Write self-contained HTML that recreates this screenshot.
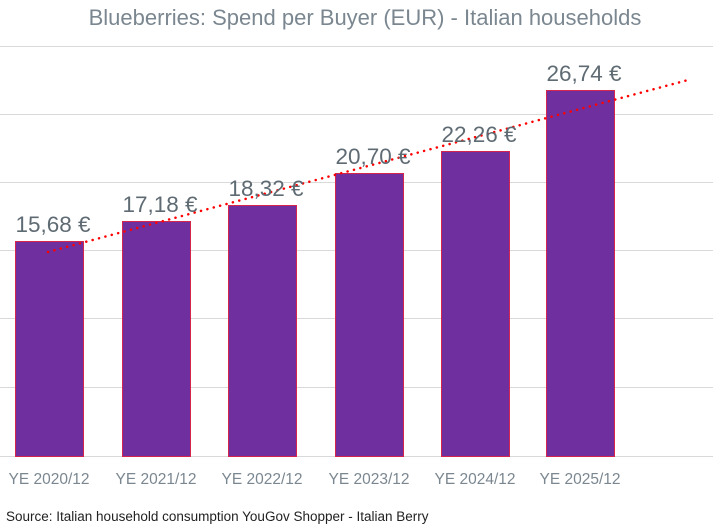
<!DOCTYPE html>
<html><head><meta charset="utf-8"><style>
body{margin:0;background:#fff}
svg{display:block;font-family:"Liberation Sans",sans-serif}
</style></head><body>
<svg width="713" height="527" viewBox="0 0 713 527">
<rect width="713" height="527" fill="#fff"/>
<text x="365" y="25" text-anchor="middle" font-size="22" fill="#7b8790">Blueberries: Spend per Buyer (EUR) - Italian households</text>
<g stroke="#d9d9d9" stroke-width="1">
<line x1="0" x2="713" y1="46.5" y2="46.5"/>
<line x1="0" x2="713" y1="114.5" y2="114.5"/>
<line x1="0" x2="713" y1="182.5" y2="182.5"/>
<line x1="0" x2="713" y1="250.5" y2="250.5"/>
<line x1="0" x2="713" y1="318.5" y2="318.5"/>
<line x1="0" x2="713" y1="387.5" y2="387.5"/>
<line x1="0" x2="713" y1="456.5" y2="456.5"/>
</g>
<g fill="#6f2f9f" stroke="#d6254d" stroke-width="1">
<rect x="15.5" y="241.5" width="68" height="215"/>
<rect x="122.5" y="221.5" width="68" height="235"/>
<rect x="228.5" y="205.5" width="68" height="251"/>
<rect x="335.5" y="173.5" width="68" height="283"/>
<rect x="441.5" y="151.5" width="68" height="305"/>
<rect x="546.5" y="90.5" width="68" height="366"/>
</g>
<line x1="48" y1="252" x2="688" y2="80" stroke="#f00" stroke-width="2.5" stroke-dasharray="0.1 6.5" stroke-linecap="round"/>
<g font-size="22.5" fill="#5f6b73" text-anchor="middle">
<text x="53" y="232">15,68 €</text>
<text x="160" y="212">17,18 €</text>
<text x="266" y="196">18,32 €</text>
<text x="373" y="164">20,70 €</text>
<text x="479" y="142">22,26 €</text>
<text x="584" y="81">26,74 €</text>
</g>
<g font-size="15.5" fill="#7b8790" text-anchor="middle">
<text x="49" y="484">YE 2020/12</text>
<text x="156" y="484">YE 2021/12</text>
<text x="262" y="484">YE 2022/12</text>
<text x="369" y="484">YE 2023/12</text>
<text x="475" y="484">YE 2024/12</text>
<text x="580" y="484">YE 2025/12</text>
</g>
<text x="6" y="521" font-size="13.5" fill="#222">Source: Italian household consumption YouGov Shopper - Italian Berry</text>
</svg>
</body></html>
